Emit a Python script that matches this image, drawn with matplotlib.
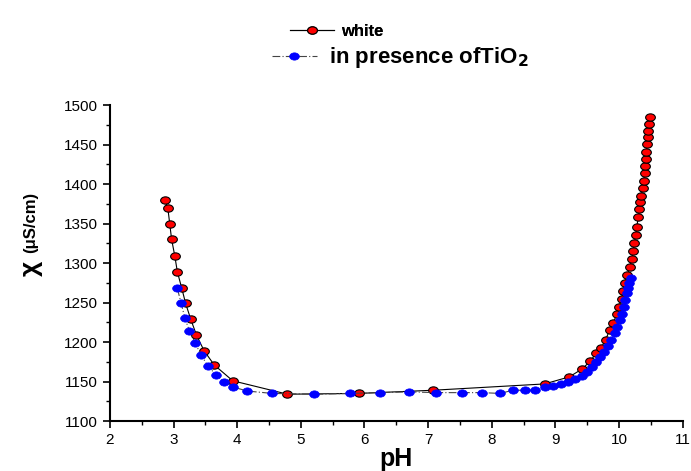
import matplotlib
matplotlib.use("Agg")
import matplotlib.pyplot as plt
from matplotlib.path import Path
from matplotlib.transforms import Affine2D
from matplotlib.ticker import MultipleLocator

plt.rcParams['font.family'] = ['Liberation Sans', 'DejaVu Sans']

# white (no catalyst)
ph_white = [2.86, 2.91, 2.94, 2.97, 3.02, 3.06, 3.13, 3.19, 3.27, 3.36, 3.48, 3.64,
            3.93, 4.79, 5.91, 7.07, 8.83, 9.22, 9.42, 9.55, 9.64, 9.72, 9.79, 9.85,
            9.91, 9.96, 10.00, 10.04, 10.06, 10.09, 10.13, 10.17, 10.20, 10.22, 10.24,
            10.26, 10.28, 10.30, 10.32, 10.33, 10.35, 10.37, 10.39, 10.40, 10.41,
            10.42, 10.43, 10.44, 10.45, 10.46, 10.47, 10.48]
chi_white = [1380, 1370, 1350, 1330, 1309, 1289, 1268, 1249, 1229, 1209, 1189, 1171,
             1151, 1134, 1135, 1139, 1147, 1156, 1166, 1176, 1186, 1193, 1203, 1215,
             1224, 1235, 1245, 1255, 1265, 1275, 1285, 1295, 1305, 1315, 1325,
             1335, 1346, 1358, 1368, 1377, 1385, 1395, 1404, 1414, 1423,
             1432, 1441, 1451, 1460, 1467, 1476, 1485]

# in presence of TiO2
ph_tio2 = [3.06, 3.12, 3.18, 3.25, 3.34, 3.43, 3.54, 3.67, 3.80, 3.94, 4.16, 4.55,
           5.21, 5.77, 6.24, 6.70, 7.12, 7.53, 7.85, 8.13, 8.33, 8.52, 8.68, 8.83,
           8.96, 9.09, 9.20, 9.30, 9.41, 9.49, 9.57, 9.63, 9.70, 9.76, 9.83, 9.88,
           9.93, 9.97, 10.01, 10.05, 10.08, 10.10, 10.13, 10.14, 10.16, 10.18]
chi_tio2 = [1268, 1249, 1230, 1214, 1199, 1184, 1170, 1158, 1150, 1143, 1138, 1135,
            1134, 1135, 1136, 1137, 1136, 1136, 1136, 1135, 1139, 1139, 1139, 1143,
            1145, 1147, 1149, 1153, 1157, 1162, 1169, 1175, 1181, 1188, 1195, 1202,
            1211, 1219, 1228, 1236, 1245, 1253, 1262, 1268, 1275, 1281]

# slightly flattened circle like the original markers
oval = Affine2D().scale(1.0, 0.75).transform_path(Path.unit_circle())

fig = plt.figure(figsize=(6.91, 4.71), dpi=100)
ax = fig.add_axes([0.159, 0.106, 0.829, 0.671])

l1, = ax.plot(ph_white, chi_white, color='black', lw=0.8, marker=oval, ms=7,
              mfc='#ff0000', mec='black', mew=0.8)
l2, = ax.plot(ph_tio2, chi_tio2, color='#444444', lw=0.8, ls=(0, (7, 2, 1, 2)),
              marker=oval, ms=7, mfc='#0000ff', mec='#0000ff', mew=0.5)

ax.set_xlim(2, 11)
ax.set_ylim(1100, 1500)
ax.xaxis.set_major_locator(MultipleLocator(1))
ax.xaxis.set_minor_locator(MultipleLocator(0.5))
ax.yaxis.set_major_locator(MultipleLocator(50))
ax.yaxis.set_minor_locator(MultipleLocator(25))
for s in ['top', 'right']:
    ax.spines[s].set_visible(False)
for s in ['left', 'bottom']:
    ax.spines[s].set_linewidth(1.5)
ax.tick_params(which='major', direction='out', length=5, width=1.2, labelsize=11)
ax.tick_params(which='minor', direction='out', length=3, width=1.0)

ax.set_xlabel('pH', fontsize=18, fontweight='bold', labelpad=0)

# y label: big chi + unit
fig.text(0.045, 1 - 268 / 471, 'χ', fontsize=19, fontweight='bold', rotation=90,
         ha='center', va='center')
fig.text(0.045, 1 - 222 / 471, '(μS/cm)', fontsize=12, fontweight='bold', rotation=90,
         ha='center', va='center')

leg1 = fig.legend([l1], ['white'], loc='center left', bbox_to_anchor=(0.420, 0.934),
                  frameon=False, prop={'weight': 'bold', 'size': 12},
                  handlelength=2.6, handletextpad=0.45, borderpad=0, borderaxespad=0)
fig.legend([l2], ['in presence ofTiO$_\\mathbf{2}$'], loc='center left',
           bbox_to_anchor=(0.394, 0.877), frameon=False,
           prop={'weight': 'bold', 'size': 16},
           handlelength=2.0, handletextpad=0.55, borderpad=0, borderaxespad=0)
fig.add_artist(leg1)

fig.savefig('out.png', dpi=100)
